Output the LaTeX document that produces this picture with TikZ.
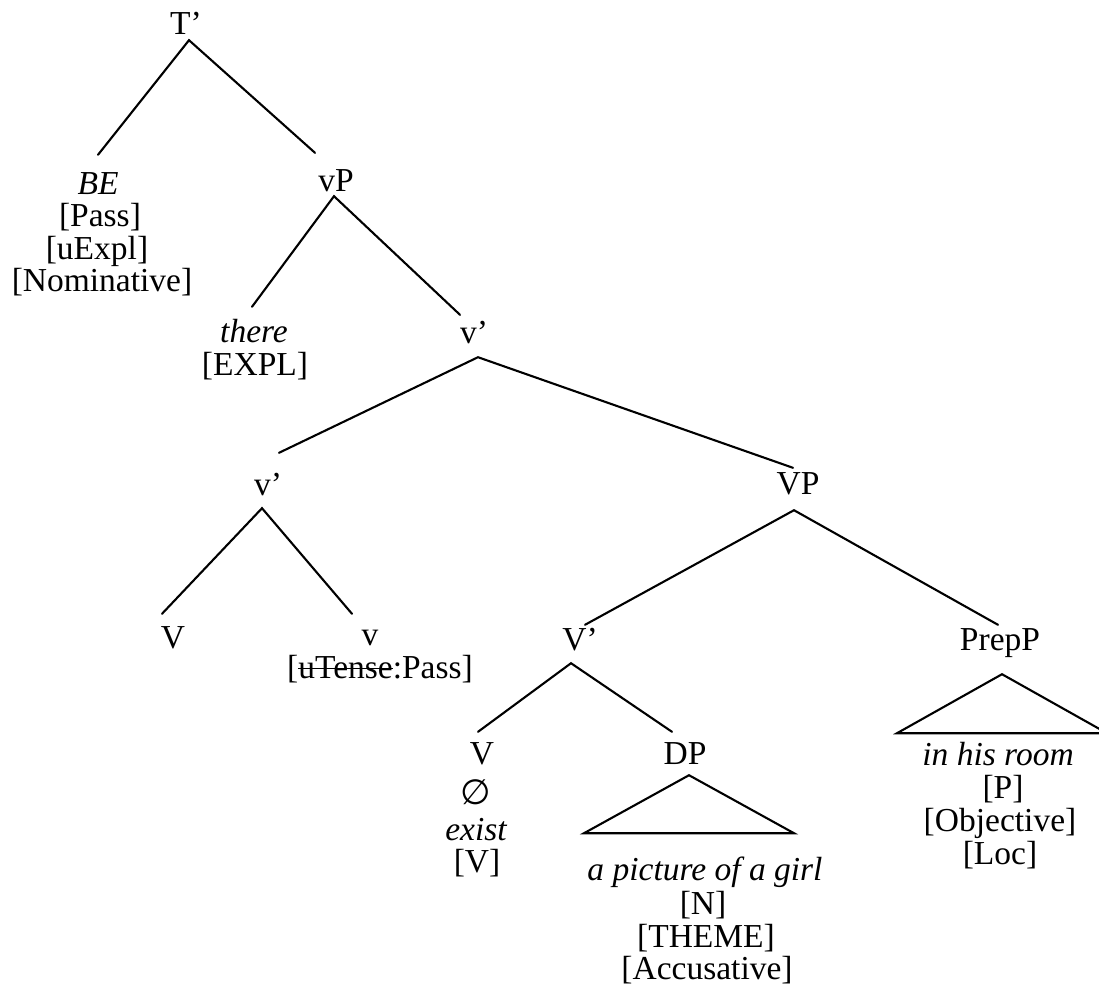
\documentclass[tikz,border=0pt]{standalone}
\usepackage{fontspec}
\setmainfont{Liberation Serif}
\newfontfamily\symbolfont{DejaVu Sans}
\usetikzlibrary{calc}

% struck-out text: the word with a thin rule through its middle
\newcommand\struckword[1]{\setbox0\hbox{#1}\rlap{\raise0.26em\hbox to\wd0{\leaders\hrule height 1.5pt depth 0pt\hfill}}\box0}

\tikzset{
  lbl/.style={anchor=base, inner sep=0pt, font=\fontsize{33.5}{36}\selectfont},
  cat/.style={lbl, text height=23pt, text depth=0pt},
  branch/.style={line width=2.1pt, line cap=round, line join=miter},
}

\begin{document}
\begin{tikzpicture}[x=1pt, y=-1pt]
  \useasboundingbox (0,0) rectangle (1099,1005);

  % category labels
  \node[cat] (T)    at (186,34)  {T’};
  \node[cat] (BE)   at (98,194)  {\itshape BE};
  \node[cat] (vP)   at (336,191) {vP};
  \node[cat] (there) at (254,342) {\itshape there};
  \node[cat] (vb1)  at (474,343) {v’};
  \node[cat] (vb2)  at (268,495) {v’};
  \node[cat] (VP)   at (798,494) {VP};
  \node[cat] (Vhd)  at (173,648) {V};
  \node[cat] (vhd)  at (370,645) {v};
  \node[cat] (Vb)   at (580,650) {V’};
  \node[cat] (PrepP) at (1000,650) {PrepP};
  \node[cat] (V)    at (482,764) {V};
  \node[cat] (DP)   at (685,764) {DP};

  % feature lines
  \node[lbl] (bePass) at (100,226) {[Pass]};
  \node[lbl] (beExpl) at (97,259)  {[uExpl]};
  \node[lbl] (beNom)  at (102,291) {[Nominative]};
  \node[lbl] (thereF) at (255,375) {[EXPL]};
  \node[lbl] (vF)     at (380,678) {[\struckword{uTense}:Pass]};
  \node[lbl] (Vnull)  at (476,804) {{\symbolfont\fontsize{35}{36}\selectfont ∅}};
  \node[lbl] (Vword)  at (476,840) {\itshape exist};
  \node[lbl] (VF)     at (477,872) {[V]};
  \node[lbl] (DPword) at (705,880) {\itshape a picture of a girl};
  \node[lbl] (DPn)    at (703,914) {[N]};
  \node[lbl] (DPth)   at (706,947) {[THEME]};
  \node[lbl] (DPacc)  at (707,979) {[Accusative]};
  \node[lbl] (PPword) at (998,765) {\itshape in his room};
  \node[lbl] (PPp)    at (1003,798) {[P]};
  \node[lbl] (PPobj)  at (1000,831) {[Objective]};
  \node[lbl] (PPloc)  at (1000,864) {[Loc]};

  % branches
  \draw[branch] ($(BE.north)+(0,-16)$) -- ($(T.south)+(3,6)$) -- ($(vP.north)+(-21,-15)$);
  \draw[branch] ($(there.north)+(-2,-12)$) -- ($(vP.south)+(-2,5)$) -- ($(vb1.north)+(-14,-5)$);
  \draw[branch] ($(vb2.north)+(11,-19)$) -- ($(vb1.south)+(4,14)$) -- ($(VP.north)+(-5,-3)$);
  \draw[branch] ($(Vhd.north)+(-11,-11)$) -- ($(vb2.south)+(-6,13)$) -- ($(vhd.north)+(-18,-8)$);
  \draw[branch] ($(Vb.north)+(5,-2)$) -- ($(VP.south)+(-4,16)$) -- ($(PrepP.north)+(-2,-2)$);
  \draw[branch] ($(V.north)+(-4,-9)$) -- ($(Vb.south)+(-9,13)$) -- ($(DP.north)+(-13,-9)$);

  % triangles
  \draw[branch] ($(DP.south)+(4,11)$) -- ($(DP.south)+(-101,69)$) -- ($(DP.south)+(109,69)$) -- cycle;
  \draw[branch] ($(PrepP.south)+(2,24)$) -- ($(PrepP.south)+(-103,83)$) -- ($(PrepP.south)+(107,83)$) -- cycle;
\end{tikzpicture}
\end{document}
